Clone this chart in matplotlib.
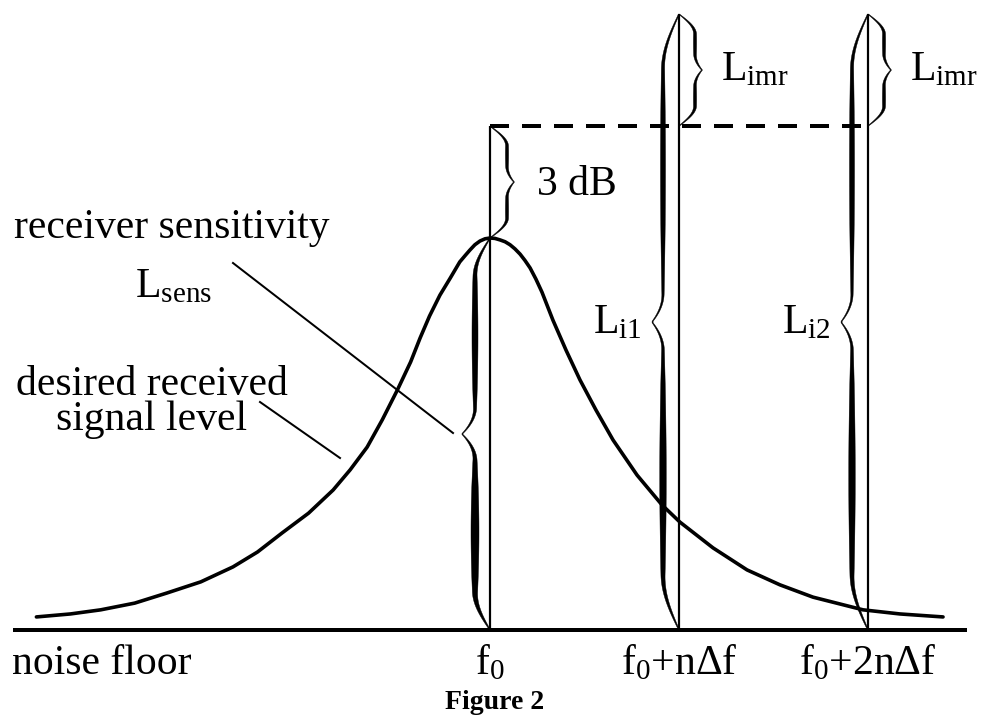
import matplotlib
matplotlib.use("Agg")
import matplotlib.pyplot as plt
import numpy as np
from matplotlib.patches import Polygon

plt.rcParams['font.family'] = ['Liberation Serif', 'DejaVu Serif']
plt.rcParams['mathtext.fontset'] = 'custom'
plt.rcParams['mathtext.rm'] = 'Liberation Serif'
plt.rcParams['mathtext.it'] = 'Liberation Serif:italic'
plt.rcParams['mathtext.bf'] = 'Liberation Serif:bold'

# ---------------- data ----------------
# desired signal spectrum: frequency offset (units of n*delta f) and level (dB above noise floor)
freq = [-2.40, -2.22, -2.06, -1.88, -1.71, -1.53, -1.36, -1.23, -1.10, -0.96,
        -0.83, -0.74, -0.65, -0.57, -0.49, -0.42, -0.37, -0.32, -0.265, -0.21,
        -0.16, -0.13, -0.106, -0.08, -0.053, -0.026, 0.0,
        0.026, 0.053, 0.08, 0.106, 0.132, 0.159, 0.185, 0.212, 0.243, 0.275,
        0.333, 0.402, 0.476, 0.561, 0.651,
        0.778, 0.910, 1.005, 1.180, 1.360, 1.534, 1.709, 1.974, 2.169, 2.397]
level = [0.35, 0.43, 0.54, 0.72, 0.99, 1.29, 1.69, 2.09, 2.60, 3.13,
         3.75, 4.29, 4.90, 5.63, 6.43, 7.18, 7.82, 8.41, 8.97, 9.43,
         9.86, 10.04, 10.18, 10.32, 10.42, 10.48, 10.50,
         10.49, 10.45, 10.40, 10.32, 10.21, 10.07, 9.90, 9.70, 9.40, 9.05,
         8.30, 7.50, 6.70, 5.89, 5.09,
         4.15, 3.35, 2.89, 2.20, 1.61, 1.21, 0.88, 0.54, 0.43, 0.35]

tick_positions = [0, 1, 2]
tick_labels = ['f$_0$', 'f$_0$+nΔf', 'f$_0$+2nΔf']
interferer_offsets = [1, 2]
interferer_labels = ['L$_{\\mathrm{i1}}$', 'L$_{\\mathrm{i2}}$']
sens_level = 10.5      # receiver sensitivity (peak of desired signal)
margin_db = 3.0        # 3 dB above sensitivity
imr_db = 3.0           # L_imr
axis_extent = 2.524    # noise-floor line half length

# ---------------- figure ----------------
W, H = 982, 715
fig = plt.figure(figsize=(W / 100, H / 100), dpi=100)
ax = fig.add_axes([0, 0, 1, 1])
PX_X = 189.0   # pixels per n*delta f
PX_Y = 37.33   # pixels per dB
X0, Y0 = 490.0, 630.0
ax.set_xlim(-X0 / PX_X, (W - X0) / PX_X)
ax.set_ylim(-(H - Y0) / PX_Y, Y0 / PX_Y)
ax.axis('off')


def d(xp, yp):
    return (xp - X0) / PX_X, (Y0 - yp) / PX_Y


PT = 0.72  # points per pixel
FS = 30

# noise floor line
ax.plot([-axis_extent, axis_extent], [0, 0], color='black', lw=4 * PT, solid_capstyle='butt')

# desired signal curve
ax.plot(freq, level, color='black', lw=3.6 * PT, solid_joinstyle='round', solid_capstyle='round')

lvl_3db = sens_level + margin_db
lvl_top = lvl_3db + imr_db

# vertical lines
ax.plot([0, 0], [0, lvl_3db], color='black', lw=2.2 * PT, solid_capstyle='butt')
for f in interferer_offsets:
    ax.plot([f, f], [0, lvl_top], color='black', lw=2.2 * PT, solid_capstyle='butt')

# dashed 3 dB line
lw_d = 4 * PT
ax.plot([0, max(interferer_offsets)], [lvl_3db, lvl_3db], color='black', lw=lw_d,
        linestyle=(0, (19 * PT / lw_d, 13 * PT / lw_d)), solid_capstyle='butt',
        dash_capstyle='butt')


def brace(x_line, y_bot, y_top, side, spine, tip, curl, tiplen, w_low, w_up, wmin=1.0):
    Hpx = (y_top - y_bot) * PX_Y
    n = 400
    ypx = np.linspace(0, Hpx, n)
    half = Hpx / 2
    u = np.where(ypx <= half, ypx, Hpx - ypx)
    off = spine * np.sin(np.pi / 2 * np.clip(u / curl, 0, 1))
    tz = u > half - tiplen
    off[tz] += (tip - spine) * ((u[tz] - (half - tiplen)) / tiplen) ** 2
    wmax = np.where(ypx <= half, w_low, w_up)
    w = wmin + (wmax - wmin) * np.sin(np.pi * u / half) ** 0.9
    outer = off + w / 2
    inner = np.maximum(off - w / 2, 0)
    ys = y_bot + ypx / PX_Y
    xo = x_line + side * outer / PX_X
    xi = x_line + side * inner / PX_X
    pts = np.concatenate([np.column_stack([xo, ys]), np.column_stack([xi, ys])[::-1]])
    ax.add_patch(Polygon(pts, closed=True, facecolor='black', edgecolor='black', lw=0.3))


# big braces (left of lines)
brace(0, 0, sens_level, -1, spine=15, tip=28, curl=38, tiplen=26, w_low=8, w_up=6)
for f in interferer_offsets:
    brace(f, 0, lvl_top, -1, spine=16, tip=27, curl=55, tiplen=28, w_low=6.5, w_up=5)
# small braces (right of lines)
brace(0, sens_level, lvl_3db, +1, spine=17, tip=24, curl=20, tiplen=16, w_low=3.2, w_up=3.2)
for f in interferer_offsets:
    brace(f, lvl_3db, lvl_top, +1, spine=16, tip=23, curl=20, tiplen=16, w_low=3.2, w_up=3.2)

# leader lines
for (a, b) in [((233, 263), (453, 433)), ((260, 402), (340, 458))]:
    p0, p1 = d(*a), d(*b)
    ax.plot([p0[0], p1[0]], [p0[1], p1[1]], color='black', lw=2 * PT)

# texts
ax.text(*d(172, 238), 'receiver sensitivity', ha='center', va='baseline', fontsize=FS)
ax.text(*d(173, 297), 'L$_{\\mathrm{sens}}$', ha='center', va='baseline', fontsize=FS)
ax.text(*d(152, 395), 'desired received', ha='center', va='baseline', fontsize=FS)
ax.text(*d(152, 430), 'signal level', ha='center', va='baseline', fontsize=FS)
ax.text(*d(12, 674), 'noise floor', ha='left', va='baseline', fontsize=FS)
for pos, lab in zip(tick_positions, tick_labels):
    ax.text(pos, d(0, 674)[1], lab, ha='center', va='baseline', fontsize=FS)
ax.text(*d(537, 195), '3 dB', ha='left', va='baseline', fontsize=FS)
for f, lab in zip(interferer_offsets, interferer_labels):
    ax.text(f - 37 / PX_X, d(0, 333)[1], lab, ha='right', va='baseline', fontsize=FS)
    ax.text(f + 42 / PX_X, d(0, 80)[1], 'L$_{\\mathrm{imr}}$', ha='left', va='baseline', fontsize=FS)
ax.text(*d(495, 709), 'Figure 2', ha='center', va='baseline', fontsize=20, fontweight='bold')

fig.savefig('out.png', dpi=100, facecolor='white')
